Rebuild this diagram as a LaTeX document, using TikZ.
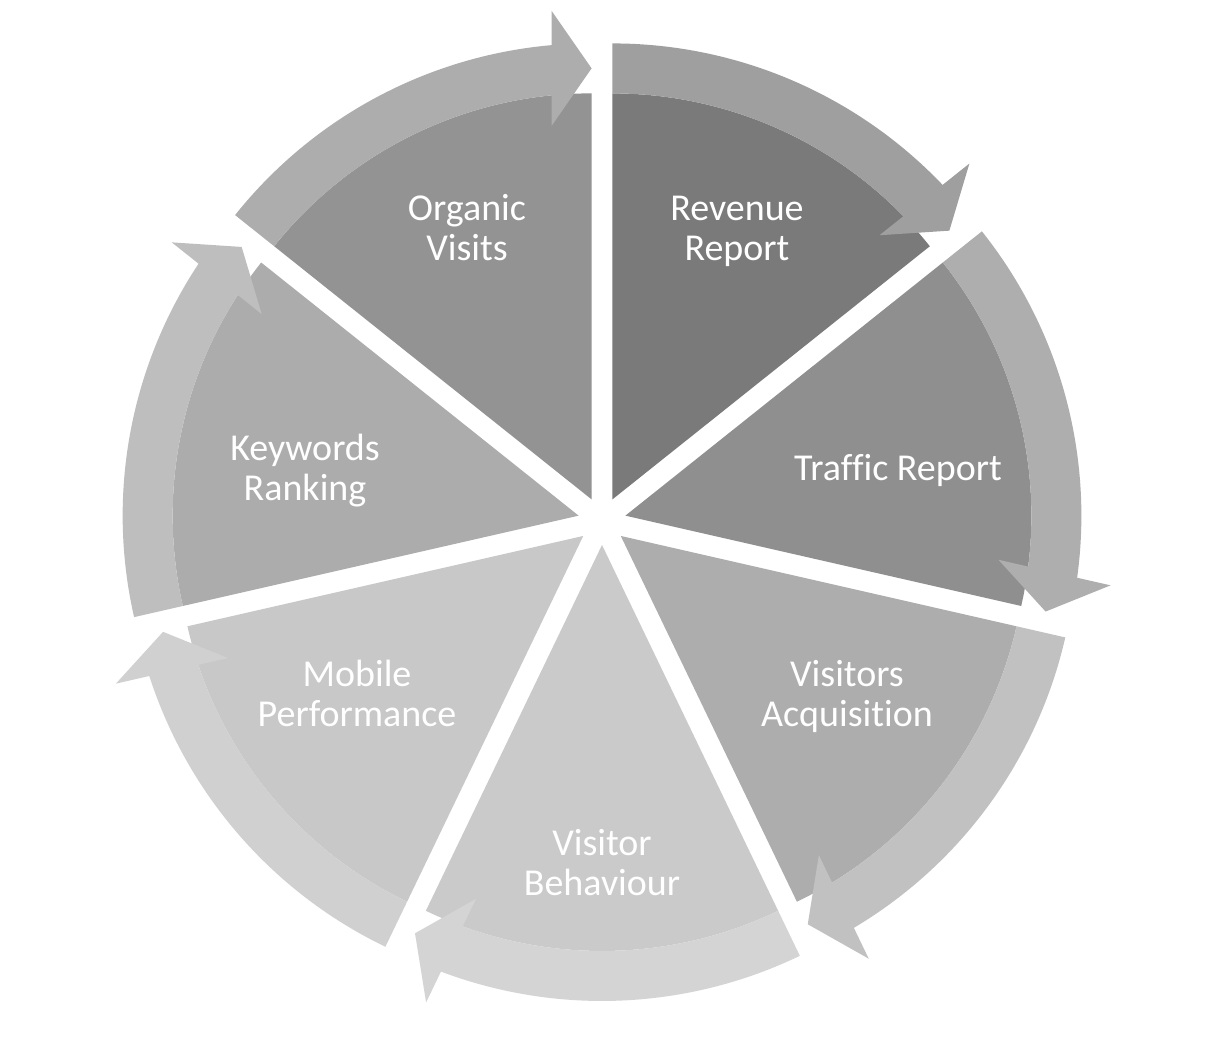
\documentclass[tikz,border=0pt]{standalone}
\usepackage{fontspec}
\setmainfont{Carlito}[Ligatures=NoCommon]
\definecolor{sOrg}{HTML}{939393}\definecolor{aOrg}{HTML}{ADADAD}
\definecolor{sRev}{HTML}{7A7A7A}\definecolor{aRev}{HTML}{9F9F9F}
\definecolor{sTra}{HTML}{8F8F8F}\definecolor{aTra}{HTML}{AEAEAE}
\definecolor{sAcq}{HTML}{ADADAD}\definecolor{aAcq}{HTML}{C1C1C1}
\definecolor{sBeh}{HTML}{CACACA}\definecolor{aBeh}{HTML}{D4D4D4}
\definecolor{sMob}{HTML}{C8C8C8}\definecolor{aMob}{HTML}{D0D0D0}
\definecolor{sKey}{HTML}{ACACAC}\definecolor{aKey}{HTML}{BEBEBE}
% #1 end angle, #2 bisector, #3 slice colour, #4 arrow colour
\newcommand\cycseg[4]{%
 \begin{scope}[shift={(602,521)},shift={(#2:24)},rotate=#1]
  \fill[#3] (0,0) -- (0:406) arc[start angle=0,end angle=51.4286,radius=406] -- cycle;
  \fill[#4] (51.4286:456) arc[start angle=51.4286,end angle=5.03,radius=456]
     -- (488.5,40) -- (431,0) -- (373.5,40)
     -- (5.65:406) arc[start angle=5.65,end angle=51.4286,radius=406] -- cycle;
 \end{scope}}
\begin{document}
\begin{tikzpicture}[x=0.75pt,y=0.75pt,
  lbl/.style={text=white, align=center, inner sep=0pt,
    font=\fontsize{28.5}{30}\selectfont}]
\useasboundingbox (0,0) rectangle (1205,1042);
\fill[white] (0,0) rectangle (1205,1042);
\cycseg{90}{115.714}{sOrg}{aOrg}
\cycseg{38.571}{64.286}{sRev}{aRev}
\cycseg{-12.857}{12.857}{sTra}{aTra}
\cycseg{-64.286}{-38.571}{sAcq}{aAcq}
\cycseg{-115.714}{-90}{sBeh}{aBeh}
\cycseg{-167.143}{-141.429}{sMob}{aMob}
\cycseg{-218.571}{-192.857}{sKey}{aKey}
\node[lbl] (org) at (467,814.5) {Organic\\Visits};
\node[lbl] (rev) at (737,811) {Revenue\\Report};
\node[lbl] (tra) at (898,571.5) {Traffic Report};
\node[lbl] (key) at (305,571) {Keywords\\Ranking};
\node[lbl] (mob) at (357,348.5) {Mobile\\Performance};
\node[lbl] (acq) at (847,345.5) {Visitors\\Acquisition};
\node[lbl] (beh) at (602,179) {Visitor\\Behaviour};
\end{tikzpicture}
\end{document}
